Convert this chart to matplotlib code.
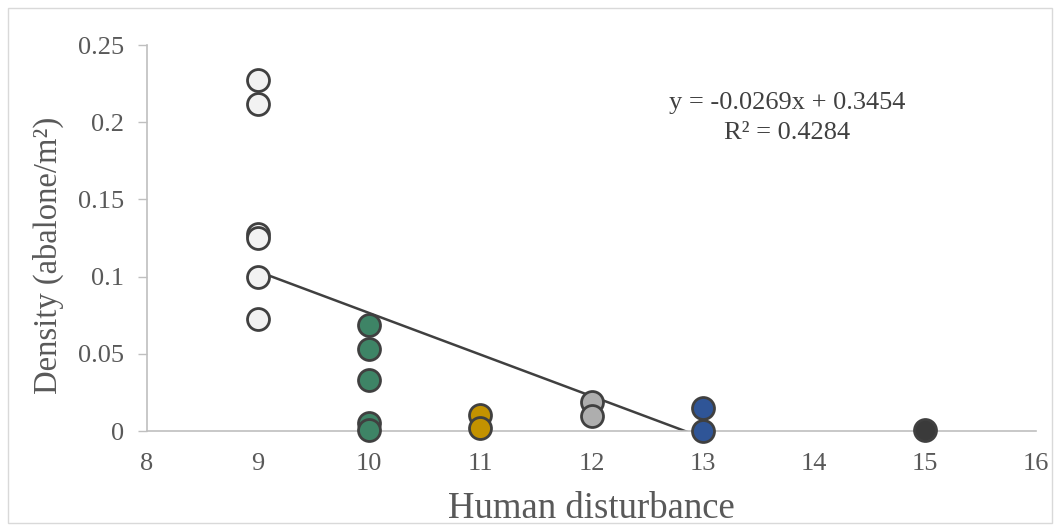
import matplotlib
matplotlib.use("Agg")
import matplotlib.pyplot as plt
from matplotlib.patches import Rectangle

plt.rcParams['font.family'] = ['Liberation Serif', 'DejaVu Serif']

# Data
x9 = [9, 9, 9, 9, 9, 9]
y9 = [0.2273, 0.2118, 0.1276, 0.1250, 0.0997, 0.0725]
x10 = [10, 10, 10, 10, 10]
y10 = [0.0687, 0.0532, 0.0330, 0.0050, 0.0006]
x11 = [11, 11]
y11 = [0.0104, 0.0018]
x12 = [12, 12]
y12 = [0.0185, 0.0097]
x13 = [13, 13]
y13 = [0.0148, 0.0002]
x15 = [15]
y15 = [0.0008]

groups = [
    (x9, y9, '#F2F2F2'),
    (x10, y10, '#3E8466'),
    (x11, y11, '#C39200'),
    (x12, y12, '#AEAEAE'),
    (x13, y13, '#2F5597'),
    (x15, y15, '#3A3A3A'),
]

slope = -0.0269
intercept = 0.3454
r2 = 0.4284
trend_x = [9, 15]

xticks = [8, 9, 10, 11, 12, 13, 14, 15, 16]
yticks = [0, 0.05, 0.1, 0.15, 0.2, 0.25]
yticklabels = ['0', '0.05', '0.1', '0.15', '0.2', '0.25']

fig = plt.figure(figsize=(10.6, 5.31), dpi=100)
fig.patch.set_facecolor('white')
fig.add_artist(Rectangle((8/1060, 8/531), 1044/1060, 515/531, transform=fig.transFigure,
                         fill=False, edgecolor='#D9D9D9', linewidth=1.0))

ax = fig.add_axes([147/1060, 100/531, 889/1060, 386/531])

ty = [slope * v + intercept for v in trend_x]
ax.plot(trend_x, ty, color='#404040', linewidth=1.8, zorder=2)

for gx, gy, c in groups:
    ax.scatter(gx, gy, s=250, facecolor=c, edgecolor='#404040', linewidth=2.0, zorder=3,
               clip_on=False)

ax.set_xlim(8, 16)
ax.set_ylim(0, 0.25)
ax.set_xticks(xticks)
ax.set_xticklabels([str(t) for t in xticks])
ax.set_yticks(yticks)
ax.set_yticklabels(yticklabels)

for s in ['top', 'right']:
    ax.spines[s].set_visible(False)
for s in ['left', 'bottom']:
    ax.spines[s].set_color('#BFBFBF')
    ax.spines[s].set_linewidth(1.2)

ax.tick_params(axis='y', direction='out', length=6.5, width=1, color='#BFBFBF',
               labelsize=19, labelcolor='#595959', pad=10)
ax.tick_params(axis='x', length=0, labelsize=19, labelcolor='#595959', pad=16)

ax.set_xlabel('Human disturbance', fontsize=26.5, color='#595959', labelpad=12)
ax.set_ylabel('Density (abalone/m²)', fontsize=23.5, color='#595959')
ax.yaxis.set_label_coords(-0.093, 0.455)

fig.text(787/1060, 1 - 103/531, 'y = -0.0269x + 0.3454',
         ha='center', va='center', fontsize=19, color='#404040')
fig.text(787/1060, 1 - 133/531, 'R² = 0.4284',
         ha='center', va='center', fontsize=19, color='#404040')

fig.savefig('out.png', dpi=100, facecolor='white')
